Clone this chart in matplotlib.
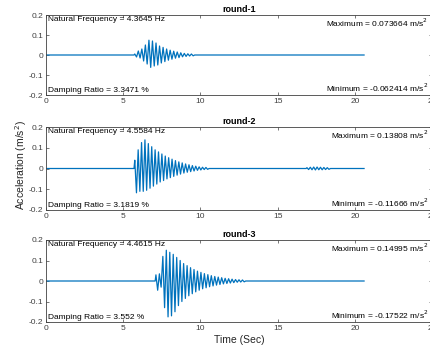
import numpy as np
import matplotlib.pyplot as plt

plt.rcParams['font.family'] = ['Liberation Sans', 'DejaVu Sans']

# values
rounds = ["round-1", "round-2", "round-3"]
nat_freq = [4.3645, 4.5584, 4.4615]
damping = [3.3471, 3.1819, 3.552]
max_acc = [0.073664, 0.13808, 0.14995]
min_acc = [-0.062414, -0.11666, -0.17522]
t_end = 20.6

# start of the shaking part (s) and successive peaks (m/s^2), one per half cycle
start1 = 5.75
peaks1 = [0.005, -0.01, 0.02, -0.015, 0.03, -0.03, 0.05, -0.045, 0.074, -0.062,
          0.07, -0.055, 0.06, -0.05, 0.045, -0.04, 0.038, -0.033, 0.03, -0.026,
          0.024, -0.021, 0.019, -0.016, 0.015, -0.013, 0.011, -0.009, 0.008, -0.007,
          0.006, -0.005, 0.005, -0.004]
start2 = 5.75
peaks2 = [0.04, -0.117, 0.09, -0.11, 0.125, -0.11, 0.138, -0.105, 0.12, -0.095,
          0.105, -0.085, 0.09, -0.075, 0.08, -0.065, 0.07, -0.058, 0.06, -0.05,
          0.052, -0.044, 0.045, -0.038, 0.038, -0.032, 0.032, -0.027, 0.027, -0.022,
          0.022, -0.018, 0.018, -0.015, 0.014, -0.012, 0.011, -0.009, 0.008, -0.007,
          0.006, -0.005, 0.005, -0.004]
start3 = 7.12
peaks3 = [0.03, -0.045, 0.035, -0.03, 0.12, -0.13, 0.15, -0.175, 0.14, -0.17,
          0.13, -0.15, 0.115, -0.12, 0.10, -0.10, 0.085, -0.085, 0.075, -0.072,
          0.065, -0.062, 0.056, -0.053, 0.048, -0.045, 0.042, -0.038, 0.036, -0.033,
          0.031, -0.028, 0.026, -0.024, 0.022, -0.02, 0.019, -0.017, 0.016, -0.014,
          0.013, -0.012, 0.011, -0.01, 0.009, -0.008, 0.007, -0.006, 0.006, -0.005,
          0.005, -0.004]
# small late burst in round-2
burst2_start = 16.9
burst2 = [0.004, -0.005, 0.006, -0.006, 0.007, -0.007, 0.007, -0.006, 0.006, -0.006,
          0.005, -0.005, 0.004, -0.004]

starts = [start1, start2, start3]
peaks = [peaks1, peaks2, peaks3]


def build(start, pk, f, extra=None):
    t_act = start + np.arange(len(pk)) / (2 * f)
    t = [0.0, start - 0.05] + list(t_act) + [t_act[-1] + 0.1]
    a = [0.0, 0.0] + list(pk) + [0.0]
    if extra is not None:
        t_b = extra[0] + np.arange(len(extra[1])) / (2 * f)
        t += [extra[0] - 0.05] + list(t_b) + [t_b[-1] + 0.1]
        a += [0.0] + list(extra[1]) + [0.0]
    t.append(t_end)
    a.append(0.0)
    return np.array(t), np.array(a)


fig = plt.figure(figsize=(4.3, 3.5), dpi=100)
left = 46 / 430
width = (432 - 46) / 430
tops = [15, 127, 240]
bots = [95, 210, 322]
grey = '#404040'

for i in range(3):
    ax = fig.add_axes([left, 1 - bots[i] / 350, width, (bots[i] - tops[i]) / 350])
    extra = (burst2_start, burst2) if i == 1 else None
    t, a = build(starts[i], peaks[i], nat_freq[i], extra)
    ax.plot(t, a, color='#0072BD', lw=0.9)
    ax.set_xlim(0, 25)
    ax.set_ylim(-0.2, 0.2)
    ax.set_xticks([0, 5, 10, 15, 20, 25])
    ax.set_yticks([-0.2, -0.1, 0, 0.1, 0.2])
    ax.set_yticklabels(['-0.2', '-0.1', '0', '0.1', '0.2'])
    ax.tick_params(direction='in', top=True, right=True, labelsize=6,
                   length=2.5, width=0.5, colors=grey, pad=2)
    for s in ax.spines.values():
        s.set_color(grey)
        s.set_linewidth(0.6)
    ax.set_title(rounds[i], fontsize=6.5, fontweight='bold', pad=2.5)
    ax.text(0.1, 0.197, 'Natural Frequency = %s Hz' % nat_freq[i], fontsize=6,
            va='top', ha='left')
    ax.text(0.1, -0.197, 'Damping Ratio = %s %%' % damping[i], fontsize=6,
            va='bottom', ha='left')
    ax.text(24.75, 0.19, 'Maximum = %s m/s$^2$' % max_acc[i], fontsize=6,
            va='top', ha='right')
    ax.text(24.75, -0.197, 'Minimum = %s m/s$^2$' % min_acc[i], fontsize=6,
            va='bottom', ha='right')
    if i == 2:
        ax.set_xlabel('Time (Sec)', fontsize=7.5, labelpad=2, color='#262626')

fig.text(21 / 430, 1 - 165 / 350, 'Acceleration (m/s$^2$)', rotation=90,
         fontsize=7.5, va='center', ha='center', color='#262626')

fig.savefig('out.png', dpi=100)
